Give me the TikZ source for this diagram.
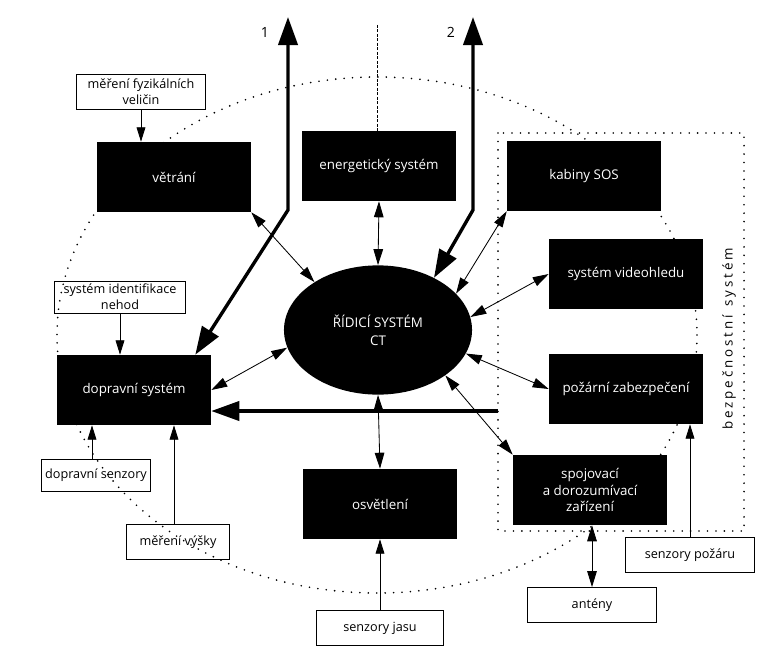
\documentclass[tikz,border=0pt]{standalone}
\usepackage{fontspec}
\setmainfont{Open Sans}
\usetikzlibrary{shapes.geometric,arrows.meta}
\tikzset{
  blok/.style={fill=black,text=white,minimum width=3.85cm,minimum height=1.75cm,
    align=center,inner sep=2pt,font=\fontsize{9.5}{12}\selectfont},
  ridic/.style={ellipse,fill=black,text=white,minimum width=4.7cm,minimum height=3.23cm,
    inner sep=0pt,align=center,font=\fontsize{9.5}{13}\selectfont},
  popis/.style={draw,line width=0.7pt,align=center,inner sep=2pt,minimum height=0.87cm,
    font=\fontsize{9}{11.5}\selectfont},
  vazba/.style={line width=0.6pt,{Triangle[length=4mm,width=2.4mm]}-{Triangle[length=4mm,width=2.4mm]}},
  tok/.style={line width=0.6pt,-{Triangle[length=3.6mm,width=2.2mm]}},
  silna/.style={line width=2.4pt,{Triangle[length=7mm,width=4.8mm]}-{Triangle[length=7mm,width=4.8mm]}},
  silnaj/.style={line width=2.4pt,-{Triangle[length=7mm,width=4.8mm]}},
  tecky/.style={line width=1.3pt,dash pattern=on 0pt off 6pt,line cap=round},
  carky/.style={line width=0.7pt,dash pattern=on 2pt off 1.2pt},
}
\begin{document}
\begin{tikzpicture}[x=0.025cm,y=-0.025cm]
  \useasboundingbox (0,0) rectangle (781,656);
  \draw[tecky] (377,335) ellipse [x radius=320,y radius=258];
  \draw[tecky] (498,133) rectangle (744,531);
  \node[rotate=90,font=\fontsize{9.5}{11}\selectfont] (bezp) at (729,339)
    {\addfontfeature{LetterSpace=22}bezpečnostní\hspace{0.6em}systém};

  \node[blok] (vetrani) at (174,177) {větrání};
  \node[blok] (energ) at (379,166) {energetický systém};
  \node[blok] (kabiny) at (584,176) {kabiny SOS};
  \node[blok] (video) at (626,274) {systém videohledu};
  \node[blok] (pozar) at (626,389) {požární zabezpečení};
  \node[blok] (spoj) at (590,490) {spojovací\\a dorozumívací\\zařízení};
  \node[blok] (osvetleni) at (380,504) {osvětlení};
  \node[blok] (doprava) at (134,390) {dopravní systém};
  \node[ridic] (ridici) at (378,330) {ŘÍDICÍ SYSTÉM\\CT};

  \node[popis,minimum width=3.23cm] (fyz) at (141,92) {měření fyzikálních\\veličin};
  \node[popis,minimum width=3.28cm,minimum height=0.8cm] (nehody) at (120,297) {systém identifikace\\nehod};
  \node[popis,minimum width=2.73cm,minimum height=0.8cm] (dsenz) at (96,475) {dopravní senzory};
  \node[popis,minimum width=2.55cm] (vyska) at (178,542) {měření výšky};
  \node[popis,minimum width=3.15cm] (jas) at (380,628) {senzory jasu};
  \node[popis,minimum width=3.23cm] (anteny) at (592,605) {antény};
  \node[popis,minimum width=3.23cm] (spozar) at (690,555) {senzory požáru};

  \node[font=\fontsize{10}{12}\selectfont] (c1) at (265,32) {1};
  \node[font=\fontsize{10}{12}\selectfont] (c2) at (451,32) {2};

  \coordinate (sit) at (377,25);
  \coordinate (out1) at (288,17);
  \coordinate (bend1) at (288,210);
  \coordinate (out2) at (473,17);
  \coordinate (bend2) at (473,210);
  \coordinate (hlav) at (498,411);

  \draw[carky] (sit) -- (sit |- energ.north);
  \draw[silna] ([xshift=-0.4cm]doprava.north east) -- (bend1) -- (out1);
  \draw[silna] (ridici.43) -- (bend2) -- (out2);
  \draw[silnaj] (hlav) -- (hlav -| doprava.east);

  \draw[vazba] (vetrani.south east) -- (ridici.143);
  \draw[vazba] (energ.south) -- (ridici.north);
  \draw[vazba] (kabiny.south west) -- (ridici.25);
  \draw[vazba] (video.west) -- (ridici.8);
  \draw[vazba] (pozar.west) -- (ridici.345);
  \draw[vazba] (spoj.north west) -- (ridici.326);
  \draw[vazba] (osvetleni.north) -- (ridici.south);
  \draw[vazba] (doprava.east) -- (ridici.191);
  \draw[vazba] (anteny.north) -- (anteny.north |- spoj.south);

  \draw[tok] (fyz.south) -- (fyz.south |- vetrani.north);
  \draw[tok] (nehody.south) -- (nehody.south |- doprava.north);
  \draw[tok] ([xshift=-0.1cm]dsenz.north) -- ([xshift=-0.1cm]dsenz.north |- doprava.south);
  \draw[tok] ([xshift=-0.1cm]vyska.north) -- ([xshift=-0.1cm]vyska.north |- doprava.south);
  \draw[tok] (jas.north) -- (jas.north |- osvetleni.south);
  \draw[tok] (spozar.north) -- (spozar.north |- pozar.south);
\end{tikzpicture}
\end{document}
